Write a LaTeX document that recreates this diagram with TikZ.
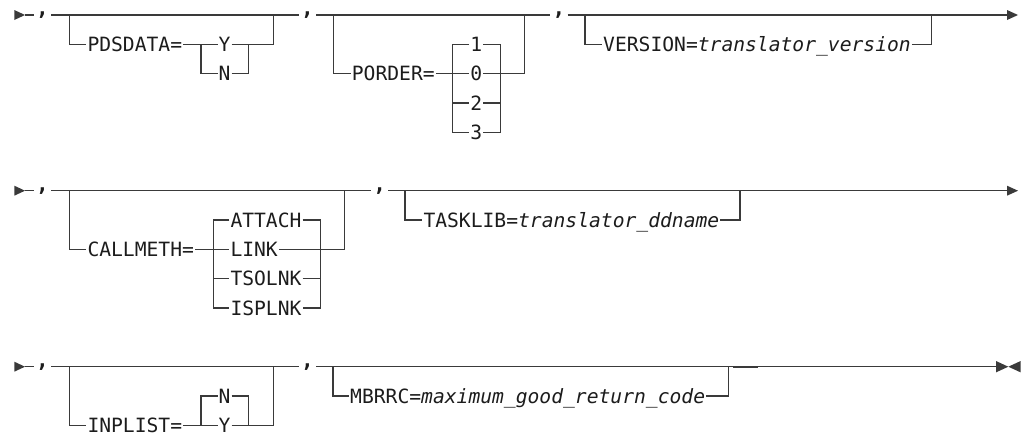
\documentclass[tikz,border=0pt]{standalone}
\usepackage{fontspec}
\newfontfamily\diagfont{DejaVu Sans Mono}
\definecolor{ln}{RGB}{58,58,58}
\definecolor{tx}{RGB}{28,28,28}
\begin{document}
\begin{tikzpicture}[x=1pt,y=-1pt,
  rail/.style={draw=ln,line width=1.3pt},
  tip/.style={fill=ln},
  lbl/.style={inner xsep=1pt,inner ysep=0pt,text height=14.33pt,text depth=0pt,
    font=\diagfont\fontsize{19.65}{20}\selectfont,text=tx},
  item/.style={lbl,anchor=west},
  commanode/.style={inner xsep=2pt,inner ysep=0pt,text height=1pt,text depth=0pt,
    font=\diagfont\bfseries\fontsize{21}{21}\selectfont,text=tx}]
\useasboundingbox (0,0) rectangle (1021,434);

% ================= Row 1 =================
\fill[tip] (14.3,10) -- (25,15) -- (14.3,20) -- cycle;
\coordinate (st1) at (25,15);
\node[commanode] (c11) at (42.5,15) {,};
\node[commanode] (c12) at (307.5,15) {,};
\node[commanode] (c13) at (559,15) {,};
\coordinate (e1) at (1007,15);
\fill[tip] (1007,10) -- (1018,15) -- (1007,20) -- cycle;
\draw[rail] (st1) -- (c11);
\draw[rail] (c11) -- (c12);
\draw[rail] (c12) -- (c13);
\draw[rail] (c13) -- (e1);

% PDSDATA
\coordinate (p1a) at (69.3,15);
\coordinate (p1r) at (273.3,15);
\node[item] (pds) at (86.3,44.3) {PDSDATA=};
\node[item] (pdsY) at (217.5,44.3) {Y};
\node[item] (pdsN) at (217.5,73.6) {N};
\coordinate (ch1l) at (201,44.3);
\coordinate (ch1r) at (248.3,44.3);
\draw[rail] (p1a) |- (pds);
\draw[rail] (pds) -- (pdsY);
\draw[rail] (pdsY) -| (p1r);
\draw[rail] (ch1l) |- (pdsN);
\draw[rail] (pdsN) -| (ch1r);

% PORDER
\coordinate (p2a) at (333.3,15);
\coordinate (p2r) at (524.3,15);
\node[item] (por) at (350.7,73.6) {PORDER=};
\node[item] (po1) at (469.2,44.3) {1};
\node[item] (po0) at (469.2,73.6) {0};
\node[item] (po2) at (469.2,102.9) {2};
\node[item] (po3) at (469.2,132.2) {3};
\coordinate (ch2l) at (452.7,132.2);
\coordinate (ch2r) at (500.7,132.2);
\coordinate (ch2lm) at (452.7,102.9);
\coordinate (ch2rm) at (500.7,102.9);
\draw[rail] (p2a) |- (por);
\draw[rail] (por) -- (po0);
\draw[rail] (po0) -| (p2r);
\draw[rail] (po1) -| (ch2l) -- (po3);
\draw[rail] (po1) -| (ch2r) -- (po3);
\draw[rail] (ch2lm) -- (po2);
\draw[rail] (po2) -- (ch2rm);

% VERSION
\coordinate (p3a) at (585,15);
\coordinate (p3r) at (931.7,15);
\node[item] (ver) at (602,44.3) {VERSION=\textit{translator\_version}};
\draw[rail] (p3a) |- (ver);
\draw[rail] (ver) -| (p3r);

% ================= Row 2 =================
\fill[tip] (14.3,185.7) -- (25,190.7) -- (14.3,195.7) -- cycle;
\coordinate (st2) at (25,190.7);
\node[commanode] (c21) at (42.5,190.7) {,};
\node[commanode] (c22) at (379.7,190.7) {,};
\coordinate (e2) at (1007,190.7);
\fill[tip] (1007,185.7) -- (1018,190.7) -- (1007,195.7) -- cycle;
\draw[rail] (st2) -- (c21);
\draw[rail] (c21) -- (c22);
\draw[rail] (c22) -- (e2);

% CALLMETH
\coordinate (p4a) at (69.3,190.7);
\coordinate (p4r) at (344.3,190.7);
\node[item] (cal) at (86.3,249.3) {CALLMETH=};
\node[item] (att) at (229.3,220) {ATTACH};
\node[item] (lnk) at (229.3,249.3) {LINK};
\node[item] (tso) at (229.3,278.6) {TSOLNK};
\node[item] (isp) at (229.3,307.9) {ISPLNK};
\coordinate (ch4l) at (213.3,307.9);
\coordinate (ch4r) at (320.3,307.9);
\coordinate (ch4lm) at (213.3,278.6);
\coordinate (ch4rm) at (320.3,278.6);
\draw[rail] (p4a) |- (cal);
\draw[rail] (cal) -- (lnk);
\draw[rail] (lnk) -| (p4r);
\draw[rail] (att) -| (ch4l) -- (isp);
\draw[rail] (att) -| (ch4r) -- (isp);
\draw[rail] (ch4lm) -- (tso);
\draw[rail] (tso) -- (ch4rm);

% TASKLIB
\coordinate (p5a) at (405,190.7);
\coordinate (p5r) at (740,190.7);
\node[item] (tsk) at (422.3,220) {TASKLIB=\textit{translator\_ddname}};
\draw[rail] (p5a) |- (tsk);
\draw[rail] (tsk) -| (p5r);

% ================= Row 3 =================
\fill[tip] (14.3,361.7) -- (25,366.7) -- (14.3,371.7) -- cycle;
\coordinate (st3) at (25,366.7);
\node[commanode] (c31) at (42.5,366.7) {,};
\node[commanode] (c32) at (307.5,366.7) {,};
\coordinate (e3) at (996,366.7);
\fill[tip] (996,361) -- (1008.3,366.7) -- (996,372.4) -- cycle;
\fill[tip] (1020.7,361) -- (1008.3,366.7) -- (1020.7,372.4) -- cycle;
\draw[rail] (st3) -- (c31);
\draw[rail] (c31) -- (c32);
\draw[rail] (c32) -- (e3);
\coordinate (tk1) at (733,366.7);
\coordinate (tk2) at (757.7,366.7);
\draw[draw=ln,line width=2pt] (tk1) -- (tk2);

% INPLIST
\coordinate (p6a) at (69.3,366.7);
\coordinate (p6r) at (273.3,366.7);
\node[item] (inp) at (86.3,425.3) {INPLIST=};
\node[item] (inN) at (217.5,396) {N};
\node[item] (inY) at (217.5,425.3) {Y};
\coordinate (ch6l) at (201,425.3);
\coordinate (ch6r) at (248.3,425.3);
\draw[rail] (p6a) |- (inp);
\draw[rail] (inp) -- (inY);
\draw[rail] (inY) -| (p6r);
\draw[rail] (inN) -| (ch6l);
\draw[rail] (inN) -| (ch6r);

% MBRRC
\coordinate (p7a) at (333,366.7);
\coordinate (p7r) at (728.3,366.7);
\node[item] (mbr) at (349,396) {MBRRC=\textit{maximum\_good\_return\_code}};
\draw[rail] (p7a) |- (mbr);
\draw[rail] (mbr) -| (p7r);
\end{tikzpicture}
\end{document}
